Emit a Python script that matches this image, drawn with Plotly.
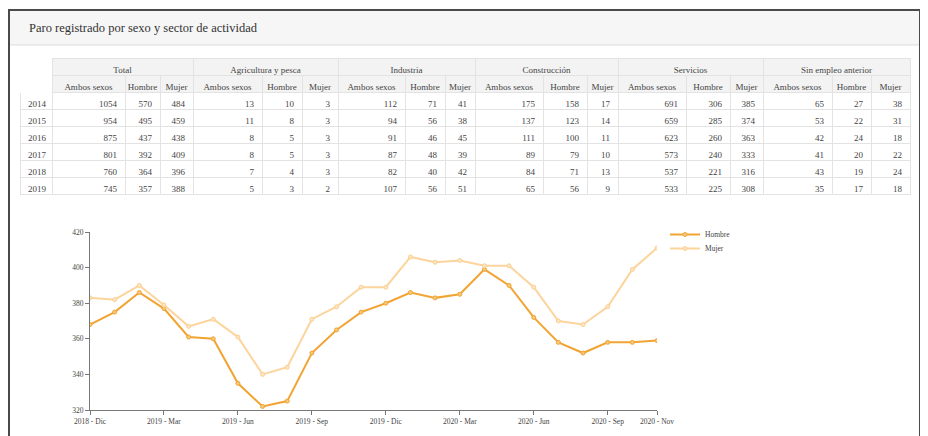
import plotly.graph_objects as go

# ---------------- data ----------------
years = [2014, 2015, 2016, 2017, 2018, 2019]

total_ambos = [1054, 954, 875, 801, 760, 745]
total_hombre = [570, 495, 437, 392, 364, 357]
total_mujer = [484, 459, 438, 409, 396, 388]

agri_ambos = [13, 11, 8, 8, 7, 5]
agri_hombre = [10, 8, 5, 5, 4, 3]
agri_mujer = [3, 3, 3, 3, 3, 2]

ind_ambos = [112, 94, 91, 87, 82, 107]
ind_hombre = [71, 56, 46, 48, 40, 56]
ind_mujer = [41, 38, 45, 39, 42, 51]

cons_ambos = [175, 137, 111, 89, 84, 65]
cons_hombre = [158, 123, 100, 79, 71, 56]
cons_mujer = [17, 14, 11, 10, 13, 9]

serv_ambos = [691, 659, 623, 573, 537, 533]
serv_hombre = [306, 285, 260, 240, 221, 225]
serv_mujer = [385, 374, 363, 333, 316, 308]

sin_ambos = [65, 53, 42, 41, 43, 35]
sin_hombre = [27, 22, 24, 20, 19, 17]
sin_mujer = [38, 31, 18, 22, 24, 18]

groups = ["Total", "Agricultura y pesca", "Industria", "Construcción", "Servicios", "Sin empleo anterior"]
subheaders = ["Ambos sexos", "Hombre", "Mujer"]

months = ["2018 - Dic", "2019 - Ene", "2019 - Feb", "2019 - Mar", "2019 - Abr", "2019 - May",
          "2019 - Jun", "2019 - Jul", "2019 - Ago", "2019 - Sep", "2019 - Oct", "2019 - Nov",
          "2019 - Dic", "2020 - Ene", "2020 - Feb", "2020 - Mar", "2020 - Abr", "2020 - May",
          "2020 - Jun", "2020 - Jul", "2020 - Ago", "2020 - Sep", "2020 - Oct", "2020 - Nov"]
hombre = [368, 375, 386, 377, 361, 360, 335, 322, 325, 352, 365, 375,
          380, 386, 383, 385, 399, 390, 372, 358, 352, 358, 358, 359]
mujer = [383, 382, 390, 379, 367, 371, 361, 340, 344, 371, 378, 389,
         389, 406, 403, 404, 401, 401, 389, 370, 368, 378, 399, 411]
xtick_labels = ["2018 - Dic", "2019 - Mar", "2019 - Jun", "2019 - Sep", "2019 - Dic",
                "2020 - Mar", "2020 - Jun", "2020 - Sep", "2020 - Nov"]
ytick_vals = [320, 340, 360, 380, 400, 420]

# ---------------- layout helpers ----------------
# the page body has an 8px margin, so the figure is 920x428 placed at (8, 8)
OFF = 8
W, H = 920, 428
def px(x):
    return (x - OFF) / W
def py(y):
    return 1 - (y - OFF) / H

FONT = "Liberation Serif"
TXT = "#444"
LINE = "#e3e3e3"
HDR = "#f3f3f3"
TFONT = 9

fig = go.Figure()

# group header table (one header row, one invisible spacer row)
fig.add_trace(go.Table(
    domain=dict(x=[px(20), px(910)], y=[py(80), py(58)]),
    columnwidth=[32, 141, 145, 137, 143, 145, 147],
    header=dict(values=[""] + groups,
                fill_color=["white"] + [HDR] * 6,
                line_color=["white"] + [LINE] * 6,
                align="center", height=17,
                font=dict(family=FONT, size=TFONT, color=TXT)),
    cells=dict(values=[[""] for _ in range(7)], height=2,
               line_color="white", fill_color="white",
               font=dict(family=FONT, size=1, color="white")),
))

# main table
cols = [years,
        total_ambos, total_hombre, total_mujer,
        agri_ambos, agri_hombre, agri_mujer,
        ind_ambos, ind_hombre, ind_mujer,
        cons_ambos, cons_hombre, cons_mujer,
        serv_ambos, serv_hombre, serv_mujer,
        sin_ambos, sin_hombre, sin_mujer]
fig.add_trace(go.Table(
    domain=dict(x=[px(20), px(910)], y=[py(200), py(75)]),
    columnwidth=[32, 73, 35, 33, 69, 40, 36, 67, 40, 30, 68, 44, 31, 68, 44, 33, 69, 39, 39],
    header=dict(values=[""] + subheaders * 6,
                fill_color=["white"] + [HDR] * 18,
                line_color=["white"] + [LINE] * 18,
                align="center", height=17,
                font=dict(family=FONT, size=TFONT, color=TXT)),
    cells=dict(values=cols,
               fill_color="white",
               line_color=LINE,
               align=["left"] + ["right"] * 18, height=17,
               font=dict(family=FONT, size=TFONT, color=TXT)),
))

# line chart
fig.add_trace(go.Scatter(
    x=months, y=hombre, name="Hombre", mode="lines+markers",
    line=dict(color="#f2a432", width=2),
    marker=dict(size=4, color="#f7c77a", line=dict(color="#f2a432", width=1)),
    showlegend=True, legend="legend",
))
fig.add_trace(go.Scatter(
    x=months, y=mujer, name="Mujer", mode="lines+markers",
    line=dict(color="#fcd49c", width=2),
    marker=dict(size=4, color="#fde6c4", line=dict(color="#fbcf92", width=1)),
    showlegend=True, legend="legend2",
))

legend_common = dict(xanchor="left", yanchor="top", visible=True,
                     font=dict(family=FONT, size=7.5, color=TXT),
                     bgcolor="rgba(0,0,0,0)", itemwidth=30)

fig.update_layout(
    width=W, height=H,
    showlegend=True,
    margin=dict(l=0, r=0, t=0, b=0, autoexpand=False),
    paper_bgcolor="white", plot_bgcolor="white",
    font=dict(family=FONT, color=TXT),
    xaxis=dict(domain=[px(90), px(657)], type="category", range=[0, len(months) - 1],
               tickvals=xtick_labels, ticktext=xtick_labels, automargin=False,
               showline=True, linecolor="#777", linewidth=1,
               ticks="outside", ticklen=4, tickcolor="#777",
               showgrid=False, zeroline=False,
               tickfont=dict(family=FONT, size=7.5, color=TXT), tickangle=0),
    yaxis=dict(domain=[py(410), py(232)], range=[320, 420], automargin=False,
               tickvals=ytick_vals,
               showline=True, linecolor="#777", linewidth=1,
               ticks="outside", ticklen=4, tickcolor="#777",
               showgrid=False, zeroline=False,
               tickfont=dict(family=FONT, size=7.5, color=TXT)),
    legend=dict(x=px(665), y=py(220), **legend_common),
    legend2=dict(x=px(665), y=py(234), **legend_common),
    shapes=[
        dict(type="rect", xref="paper", yref="paper", x0=px(9), x1=px(919), y0=py(45), y1=py(11),
             fillcolor="#f6f6f6", line=dict(width=0), layer="below"),
        dict(type="line", xref="paper", yref="paper", x0=px(9), x1=px(919), y0=py(45), y1=py(45),
             line=dict(color="#dddddd", width=1), layer="below"),
        dict(type="rect", xref="paper", yref="paper", x0=px(9), x1=px(920), y0=py(440), y1=py(10),
             line=dict(color="#4a4a4a", width=2), fillcolor="rgba(0,0,0,0)", layer="below"),
    ],
    annotations=[
        dict(text="Paro registrado por sexo y sector de actividad", xref="paper", yref="paper",
             x=px(27), y=py(28), xanchor="left", yanchor="middle", showarrow=False,
             font=dict(family=FONT, size=12.5, color="#333")),
    ],
)

fig.write_html("out.html")
